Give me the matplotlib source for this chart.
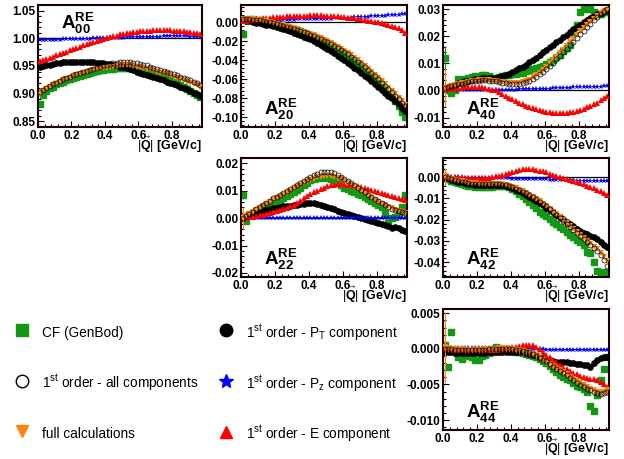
import numpy as np
import matplotlib
matplotlib.use('Agg')
import matplotlib.pyplot as plt
from matplotlib.lines import Line2D
from matplotlib.ticker import MultipleLocator, FuncFormatter

plt.rcParams['font.family'] = ['Liberation Sans', 'DejaVu Sans']
plt.rcParams['mathtext.fontset'] = 'custom'
plt.rcParams['mathtext.rm'] = 'Liberation Sans'
plt.rcParams['mathtext.it'] = 'Liberation Sans:italic'
plt.rcParams['mathtext.bf'] = 'Liberation Sans:bold'
plt.rcParams['axes.unicode_minus'] = False

# bin centres of |Q| in GeV/c (bins 0.02 wide, 0 - 0.98)
q = np.arange(0.01, 0.98, 0.02)

# ---------------- A00 ----------------
a00_cf = [0.881, 0.898, 0.905, 0.910, 0.913, 0.917, 0.919, 0.922, 0.924, 0.926,
          0.929, 0.930, 0.932, 0.934, 0.936, 0.937, 0.939, 0.941, 0.942, 0.943,
          0.944, 0.945, 0.945, 0.946, 0.947, 0.947, 0.947, 0.946, 0.946, 0.945,
          0.943, 0.942, 0.940, 0.938, 0.936, 0.934, 0.932, 0.930, 0.928, 0.925,
          0.922, 0.919, 0.916, 0.912, 0.909, 0.905, 0.901, 0.897, 0.894]
a00_all = [0.903, 0.907, 0.911, 0.914, 0.917, 0.920, 0.923, 0.926, 0.928, 0.931,
           0.933, 0.935, 0.937, 0.939, 0.941, 0.943, 0.945, 0.947, 0.949, 0.951,
           0.952, 0.954, 0.955, 0.956, 0.957, 0.957, 0.957, 0.957, 0.956, 0.955,
           0.954, 0.952, 0.951, 0.949, 0.947, 0.945, 0.943, 0.941, 0.939, 0.937,
           0.935, 0.933, 0.931, 0.929, 0.926, 0.924, 0.921, 0.919, 0.916]
a00_full = [0.900, 0.905, 0.909, 0.912, 0.915, 0.918, 0.921, 0.924, 0.926, 0.929,
            0.931, 0.933, 0.935, 0.937, 0.939, 0.941, 0.942, 0.944, 0.945, 0.946,
            0.947, 0.948, 0.949, 0.950, 0.951, 0.951, 0.951, 0.951, 0.950, 0.949,
            0.948, 0.947, 0.945, 0.944, 0.942, 0.940, 0.938, 0.937, 0.935, 0.933,
            0.931, 0.929, 0.927, 0.925, 0.922, 0.920, 0.917, 0.915, 0.912]
a00_pt = [0.948, 0.950, 0.951, 0.952, 0.954, 0.955, 0.956, 0.957, 0.957, 0.958,
          0.958, 0.958, 0.958, 0.958, 0.958, 0.957, 0.957, 0.956, 0.956, 0.955,
          0.954, 0.953, 0.952, 0.951, 0.949, 0.948, 0.946, 0.944, 0.942, 0.940,
          0.938, 0.936, 0.934, 0.932, 0.930, 0.928, 0.926, 0.924, 0.922, 0.920,
          0.918, 0.916, 0.913, 0.911, 0.908, 0.905, 0.902, 0.899, 0.896]
a00_pz = [0.996, 0.996, 0.996, 0.997, 0.997, 0.997, 0.997, 0.998, 0.998, 0.998,
          0.998, 0.998, 0.999, 0.999, 0.999, 0.999, 1.000, 1.000, 1.000, 1.000,
          1.000, 1.001, 1.001, 1.001, 1.001, 1.001, 1.002, 1.002, 1.002, 1.002,
          1.002, 1.003, 1.003, 1.003, 1.003, 1.003, 1.003, 1.004, 1.004, 1.004,
          1.004, 1.004, 1.004, 1.004, 1.004, 1.003, 1.003, 1.003, 1.003]
a00_e = [0.959, 0.961, 0.963, 0.965, 0.967, 0.970, 0.972, 0.974, 0.976, 0.979,
         0.981, 0.983, 0.985, 0.987, 0.989, 0.991, 0.993, 0.995, 0.997, 0.999,
         1.001, 1.002, 1.004, 1.005, 1.007, 1.008, 1.009, 1.010, 1.011, 1.012,
         1.013, 1.013, 1.014, 1.014, 1.015, 1.015, 1.015, 1.015, 1.015, 1.015,
         1.014, 1.014, 1.013, 1.013, 1.012, 1.011, 1.010, 1.009, 1.007]

# ---------------- A20 ----------------
a20_cf = [-0.0120, 0.0020, 0.0030, 0.0028, 0.0026, 0.0022, 0.0015, 0.0007, -0.0002, -0.0010,
          -0.0019, -0.0029, -0.0039, -0.0050, -0.0061, -0.0072, -0.0085, -0.0098, -0.0111, -0.0124,
          -0.0138, -0.0154, -0.0170, -0.0187, -0.0204, -0.0222, -0.0243, -0.0264, -0.0286, -0.0310,
          -0.0334, -0.0360, -0.0386, -0.0413, -0.0441, -0.0470, -0.0502, -0.0535, -0.0568, -0.0602,
          -0.0640, -0.0676, -0.0712, -0.0750, -0.0790, -0.0830, -0.0880, -0.0940, -0.1000]
a20_all = [0.0030, 0.0030, 0.0029, 0.0027, 0.0024, 0.0020, 0.0013, 0.0005, -0.0003, -0.0011,
           -0.0020, -0.0030, -0.0040, -0.0050, -0.0060, -0.0070, -0.0082, -0.0094, -0.0106, -0.0118,
           -0.0130, -0.0146, -0.0162, -0.0178, -0.0194, -0.0210, -0.0230, -0.0250, -0.0270, -0.0290,
           -0.0310, -0.0336, -0.0362, -0.0388, -0.0414, -0.0440, -0.0472, -0.0504, -0.0536, -0.0568,
           -0.0600, -0.0634, -0.0668, -0.0702, -0.0736, -0.0770, -0.0807, -0.0844, -0.0880]
a20_full = [0.0035, 0.0033, 0.0031, 0.0029, 0.0026, 0.0022, 0.0016, 0.0009, 0.0001, -0.0007,
            -0.0016, -0.0025, -0.0035, -0.0045, -0.0055, -0.0065, -0.0076, -0.0088, -0.0100, -0.0112,
            -0.0124, -0.0139, -0.0154, -0.0170, -0.0186, -0.0202, -0.0221, -0.0240, -0.0259, -0.0279,
            -0.0299, -0.0324, -0.0349, -0.0375, -0.0401, -0.0427, -0.0458, -0.0490, -0.0522, -0.0554,
            -0.0586, -0.0620, -0.0654, -0.0688, -0.0722, -0.0757, -0.0794, -0.0832, -0.0870]
a20_pt = [0.0020, 0.0014, 0.0008, 0.0002, -0.0004, -0.0010, -0.0018, -0.0026, -0.0034, -0.0042,
          -0.0050, -0.0062, -0.0074, -0.0086, -0.0098, -0.0110, -0.0124, -0.0138, -0.0152, -0.0166,
          -0.0180, -0.0200, -0.0220, -0.0240, -0.0260, -0.0280, -0.0304, -0.0328, -0.0352, -0.0376,
          -0.0400, -0.0426, -0.0452, -0.0478, -0.0504, -0.0530, -0.0560, -0.0590, -0.0620, -0.0650,
          -0.0680, -0.0710, -0.0740, -0.0770, -0.0800, -0.0830, -0.0863, -0.0896, -0.0930]
a20_pz = [0.0015, 0.0016, 0.0017, 0.0018, 0.0019, 0.0020, 0.0021, 0.0022, 0.0023, 0.0024,
          0.0025, 0.0025, 0.0026, 0.0026, 0.0027, 0.0027, 0.0028, 0.0028, 0.0029, 0.0030,
          0.0031, 0.0032, 0.0033, 0.0034, 0.0035, 0.0036, 0.0037, 0.0039, 0.0040, 0.0042,
          0.0044, 0.0046, 0.0048, 0.0050, 0.0052, 0.0054, 0.0056, 0.0058, 0.0060, 0.0062,
          0.0064, 0.0066, 0.0068, 0.0071, 0.0074, 0.0077, 0.0080, 0.0083, 0.0086]
a20_e = [0.0010, 0.0015, 0.0020, 0.0025, 0.0030, 0.0035, 0.0040, 0.0043, 0.0046, 0.0049,
         0.0052, 0.0055, 0.0058, 0.0060, 0.0062, 0.0064, 0.0066, 0.0067, 0.0068, 0.0069,
         0.0070, 0.0070, 0.0070, 0.0070, 0.0069, 0.0068, 0.0066, 0.0063, 0.0060, 0.0056,
         0.0052, 0.0048, 0.0044, 0.0039, 0.0034, 0.0029, 0.0023, 0.0017, 0.0011, 0.0005,
         -0.0002, -0.0010, -0.0019, -0.0029, -0.0040, -0.0052, -0.0066, -0.0084, -0.0110]

# ---------------- A40 ----------------
a40_cf = [0.0120, 0.0002, -0.0010, 0.0000, 0.0042, 0.0040, 0.0042, 0.0045, 0.0048, 0.0052,
          0.0050, 0.0055, 0.0058, 0.0052, 0.0046, 0.0046, 0.0050, 0.0053, 0.0056, 0.0058,
          0.0060, 0.0062, 0.0064, 0.0066, 0.0070, 0.0074, 0.0078, 0.0082, 0.0086, 0.0090,
          0.0096, 0.0104, 0.0112, 0.0122, 0.0132, 0.0144, 0.0156, 0.0168, 0.0210, 0.0240,
          0.0290, 0.0300, 0.0310, 0.0300, 0.0290, 0.0280, 0.0280, 0.0290, 0.0290]
a40_all = [0.0010, 0.0013, 0.0016, 0.0019, 0.0022, 0.0025, 0.0028, 0.0031, 0.0033, 0.0035,
           0.0036, 0.0037, 0.0037, 0.0036, 0.0035, 0.0033, 0.0031, 0.0029, 0.0027, 0.0025,
           0.0024, 0.0024, 0.0025, 0.0027, 0.0031, 0.0036, 0.0043, 0.0051, 0.0059, 0.0068,
           0.0079, 0.0090, 0.0102, 0.0114, 0.0127, 0.0140, 0.0153, 0.0166, 0.0180, 0.0193,
           0.0207, 0.0220, 0.0233, 0.0246, 0.0258, 0.0270, 0.0281, 0.0291, 0.0300]
a40_full = [0.0010, 0.0013, 0.0016, 0.0019, 0.0023, 0.0026, 0.0029, 0.0032, 0.0034, 0.0036,
            0.0037, 0.0038, 0.0038, 0.0037, 0.0036, 0.0034, 0.0032, 0.0030, 0.0028, 0.0027,
            0.0026, 0.0026, 0.0028, 0.0030, 0.0034, 0.0040, 0.0048, 0.0057, 0.0066, 0.0077,
            0.0088, 0.0100, 0.0112, 0.0124, 0.0137, 0.0150, 0.0164, 0.0177, 0.0191, 0.0204,
            0.0218, 0.0230, 0.0242, 0.0253, 0.0264, 0.0275, 0.0284, 0.0290, 0.0295]
a40_pt = [0.0006, 0.0011, 0.0016, 0.0021, 0.0026, 0.0030, 0.0033, 0.0036, 0.0039, 0.0041,
          0.0043, 0.0044, 0.0044, 0.0045, 0.0045, 0.0045, 0.0048, 0.0052, 0.0056, 0.0061,
          0.0067, 0.0074, 0.0081, 0.0088, 0.0095, 0.0103, 0.0112, 0.0121, 0.0130, 0.0140,
          0.0149, 0.0159, 0.0168, 0.0178, 0.0187, 0.0197, 0.0206, 0.0215, 0.0225, 0.0234,
          0.0243, 0.0251, 0.0258, 0.0266, 0.0273, 0.0280, 0.0286, 0.0292, 0.0298]
a40_pz = [0.0000, 0.0000, 0.0000, 0.0000, 0.0000, 0.0001, 0.0001, 0.0001, 0.0001, 0.0001,
          0.0001, 0.0001, 0.0002, 0.0002, 0.0002, 0.0002, 0.0002, 0.0003, 0.0003, 0.0003,
          0.0003, 0.0003, 0.0004, 0.0004, 0.0004, 0.0005, 0.0005, 0.0005, 0.0006, 0.0006,
          0.0007, 0.0007, 0.0008, 0.0008, 0.0009, 0.0009, 0.0010, 0.0010, 0.0011, 0.0011,
          0.0012, 0.0012, 0.0013, 0.0013, 0.0014, 0.0014, 0.0014, 0.0015, 0.0015]
a40_e = [0.0005, 0.0006, 0.0007, 0.0008, 0.0009, 0.0010, 0.0011, 0.0012, 0.0012, 0.0012,
         0.0012, 0.0011, 0.0009, 0.0006, 0.0003, 0.0000, -0.0006, -0.0013, -0.0020, -0.0027,
         -0.0033, -0.0039, -0.0045, -0.0051, -0.0057, -0.0062, -0.0066, -0.0070, -0.0074, -0.0077,
         -0.0080, -0.0081, -0.0082, -0.0083, -0.0083, -0.0083, -0.0082, -0.0080, -0.0078, -0.0075,
         -0.0072, -0.0068, -0.0063, -0.0057, -0.0051, -0.0045, -0.0037, -0.0029, -0.0022]

# ---------------- A22 ----------------
a22_cf = [0.0085, -0.0010, 0.0015, 0.0020, 0.0025, 0.0032, 0.0040, 0.0046, 0.0050, 0.0054,
          0.0056, 0.0064, 0.0072, 0.0080, 0.0088, 0.0096, 0.0104, 0.0112, 0.0120, 0.0130,
          0.0138, 0.0142, 0.0146, 0.0148, 0.0150, 0.0148, 0.0144, 0.0138, 0.0130, 0.0120,
          0.0110, 0.0106, 0.0100, 0.0094, 0.0090, 0.0085, 0.0078, 0.0070, 0.0062, 0.0055,
          0.0048, 0.0040, 0.0018, -0.0018, 0.0000, 0.0006, 0.0020, 0.0040, 0.0085]
a22_all = [0.0000, 0.0008, 0.0016, 0.0024, 0.0032, 0.0040, 0.0048, 0.0056, 0.0064, 0.0072,
           0.0079, 0.0086, 0.0093, 0.0101, 0.0108, 0.0115, 0.0122, 0.0130, 0.0137, 0.0145,
           0.0152, 0.0158, 0.0163, 0.0167, 0.0170, 0.0170, 0.0168, 0.0164, 0.0158, 0.0152,
           0.0145, 0.0137, 0.0129, 0.0120, 0.0112, 0.0103, 0.0094, 0.0086, 0.0077, 0.0069,
           0.0061, 0.0054, 0.0047, 0.0041, 0.0035, 0.0030, 0.0026, 0.0022, 0.0018]
a22_full = [0.0002, 0.0009, 0.0016, 0.0023, 0.0030, 0.0037, 0.0044, 0.0051, 0.0058, 0.0065,
            0.0072, 0.0079, 0.0086, 0.0093, 0.0100, 0.0107, 0.0114, 0.0121, 0.0128, 0.0134,
            0.0140, 0.0145, 0.0149, 0.0152, 0.0154, 0.0155, 0.0154, 0.0152, 0.0148, 0.0143,
            0.0137, 0.0130, 0.0123, 0.0115, 0.0107, 0.0099, 0.0091, 0.0083, 0.0075, 0.0067,
            0.0060, 0.0053, 0.0047, 0.0041, 0.0036, 0.0031, 0.0027, 0.0023, 0.0020]
a22_pt = [0.0000, 0.0005, 0.0009, 0.0013, 0.0018, 0.0022, 0.0026, 0.0029, 0.0032, 0.0036,
          0.0039, 0.0041, 0.0043, 0.0045, 0.0046, 0.0048, 0.0050, 0.0052, 0.0053, 0.0054,
          0.0055, 0.0055, 0.0053, 0.0050, 0.0046, 0.0042, 0.0037, 0.0032, 0.0027, 0.0023,
          0.0018, 0.0015, 0.0011, 0.0008, 0.0004, 0.0000, -0.0004, -0.0007, -0.0011, -0.0014,
          -0.0018, -0.0022, -0.0025, -0.0030, -0.0036, -0.0034, -0.0036, -0.0042, -0.0046]
a22_pz = [0.0000, 0.0000, 0.0001, 0.0001, 0.0001, 0.0001, 0.0001, 0.0001, 0.0001, 0.0001,
          0.0001, 0.0001, 0.0001, 0.0001, 0.0001, 0.0001, 0.0001, 0.0001, 0.0001, 0.0001,
          0.0001, 0.0001, 0.0001, 0.0001, 0.0002, 0.0002, 0.0002, 0.0002, 0.0002, 0.0002,
          0.0002, 0.0002, 0.0002, 0.0002, 0.0002, 0.0002, 0.0002, 0.0002, 0.0002, 0.0002,
          0.0002, 0.0002, 0.0002, 0.0002, 0.0002, 0.0002, 0.0002, 0.0002, 0.0002]
a22_e = [0.0000, 0.0002, 0.0004, 0.0006, 0.0008, 0.0010, 0.0013, 0.0016, 0.0019, 0.0022,
         0.0025, 0.0029, 0.0034, 0.0039, 0.0044, 0.0050, 0.0057, 0.0064, 0.0072, 0.0080,
         0.0087, 0.0094, 0.0100, 0.0106, 0.0112, 0.0117, 0.0120, 0.0122, 0.0124, 0.0125,
         0.0124, 0.0123, 0.0121, 0.0119, 0.0117, 0.0114, 0.0111, 0.0107, 0.0103, 0.0100,
         0.0096, 0.0092, 0.0089, 0.0085, 0.0082, 0.0078, 0.0075, 0.0071, 0.0067]

# ---------------- A42 ----------------
a42_cf = [0.0000, -0.0010, -0.0018, -0.0024, -0.0028, -0.0032, -0.0036, -0.0040, -0.0043, -0.0046,
          -0.0048, -0.0048, -0.0047, -0.0046, -0.0045, -0.0044, -0.0042, -0.0041, -0.0042, -0.0048,
          -0.0056, -0.0066, -0.0078, -0.0090, -0.0104, -0.0118, -0.0132, -0.0146, -0.0162, -0.0175,
          -0.0185, -0.0198, -0.0210, -0.0222, -0.0234, -0.0246, -0.0258, -0.0270, -0.0282, -0.0294,
          -0.0306, -0.0320, -0.0350, -0.0355, -0.0400, -0.0440, -0.0455, -0.0445, -0.0460]
a42_all = [0.0000, -0.0005, -0.0010, -0.0014, -0.0018, -0.0022, -0.0025, -0.0028, -0.0030, -0.0031,
           -0.0032, -0.0032, -0.0033, -0.0033, -0.0033, -0.0033, -0.0034, -0.0036, -0.0039, -0.0043,
           -0.0048, -0.0054, -0.0061, -0.0068, -0.0076, -0.0085, -0.0095, -0.0105, -0.0116, -0.0127,
           -0.0138, -0.0151, -0.0165, -0.0178, -0.0192, -0.0206, -0.0220, -0.0234, -0.0248, -0.0262,
           -0.0276, -0.0290, -0.0304, -0.0318, -0.0332, -0.0346, -0.0365, -0.0390, -0.0420]
a42_full = [0.0005, -0.0002, -0.0008, -0.0012, -0.0016, -0.0020, -0.0023, -0.0026, -0.0028, -0.0029,
            -0.0030, -0.0030, -0.0031, -0.0031, -0.0031, -0.0031, -0.0032, -0.0034, -0.0037, -0.0041,
            -0.0046, -0.0052, -0.0059, -0.0066, -0.0074, -0.0083, -0.0093, -0.0103, -0.0114, -0.0125,
            -0.0136, -0.0149, -0.0162, -0.0175, -0.0189, -0.0203, -0.0217, -0.0231, -0.0245, -0.0259,
            -0.0273, -0.0287, -0.0300, -0.0313, -0.0327, -0.0340, -0.0355, -0.0375, -0.0395]
a42_pt = [0.0000, -0.0006, -0.0012, -0.0017, -0.0021, -0.0025, -0.0028, -0.0031, -0.0033, -0.0035,
          -0.0036, -0.0036, -0.0036, -0.0036, -0.0036, -0.0036, -0.0037, -0.0039, -0.0042, -0.0047,
          -0.0052, -0.0059, -0.0066, -0.0074, -0.0083, -0.0092, -0.0102, -0.0112, -0.0123, -0.0133,
          -0.0144, -0.0155, -0.0166, -0.0177, -0.0187, -0.0198, -0.0209, -0.0220, -0.0231, -0.0242,
          -0.0253, -0.0261, -0.0269, -0.0276, -0.0284, -0.0292, -0.0306, -0.0318, -0.0330]
a42_pz = [0.0000, 0.0000, -0.0001, -0.0001, -0.0001, -0.0002, -0.0002, -0.0002, -0.0003, -0.0003,
          -0.0003, -0.0004, -0.0004, -0.0004, -0.0005, -0.0005, -0.0005, -0.0006, -0.0006, -0.0006,
          -0.0007, -0.0007, -0.0008, -0.0008, -0.0008, -0.0009, -0.0009, -0.0010, -0.0010, -0.0011,
          -0.0011, -0.0012, -0.0012, -0.0013, -0.0013, -0.0014, -0.0014, -0.0015, -0.0015, -0.0016,
          -0.0016, -0.0017, -0.0017, -0.0018, -0.0018, -0.0019, -0.0019, -0.0020, -0.0020]
a42_e = [0.0000, 0.0000, 0.0000, 0.0000, -0.0001, -0.0001, -0.0002, -0.0003, -0.0004, -0.0005,
         -0.0005, -0.0005, -0.0004, -0.0003, -0.0001, 0.0003, 0.0007, 0.0011, 0.0016, 0.0021,
         0.0026, 0.0030, 0.0034, 0.0037, 0.0039, 0.0039, 0.0038, 0.0035, 0.0031, 0.0027,
         0.0023, 0.0017, 0.0011, 0.0005, 0.0000, -0.0005, -0.0009, -0.0014, -0.0019, -0.0023,
         -0.0028, -0.0034, -0.0040, -0.0046, -0.0052, -0.0059, -0.0066, -0.0074, -0.0082]

# ---------------- A44 ----------------
a44_cf = [0.0005, -0.0025, 0.0023, -0.0002, -0.0012, -0.0014, -0.0010, -0.0008, -0.0012, -0.0016,
          -0.0015, -0.0010, -0.0009, -0.0006, -0.0004, 0.0002, 0.0001, 0.0000, -0.0001, -0.0002,
          -0.0003, -0.0004, -0.0005, -0.0006, -0.0007, -0.0008, -0.0010, -0.0012, -0.0014, -0.0017,
          -0.0020, -0.0024, -0.0028, -0.0033, -0.0037, -0.0040, -0.0042, -0.0044, -0.0048, -0.0052,
          -0.0053, -0.0057, -0.0060, -0.0080, -0.0088, -0.0065, -0.0044, -0.0028, -0.0012]
a44_all = [0.0000, 0.0000, 0.0000, -0.0001, -0.0001, -0.0001, -0.0001, -0.0001, -0.0001, -0.0001,
           -0.0001, -0.0001, -0.0001, 0.0000, 0.0000, 0.0000, 0.0000, 0.0000, 0.0000, 0.0000,
           0.0000, -0.0001, -0.0002, -0.0003, -0.0004, -0.0005, -0.0007, -0.0010, -0.0013, -0.0016,
           -0.0017, -0.0021, -0.0025, -0.0028, -0.0031, -0.0034, -0.0037, -0.0041, -0.0044, -0.0048,
           -0.0051, -0.0054, -0.0056, -0.0058, -0.0060, -0.0062, -0.0063, -0.0062, -0.0060]
a44_full = [0.0002, 0.0001, 0.0000, 0.0000, -0.0001, 0.0000, -0.0001, -0.0001, -0.0001, 0.0000,
            -0.0001, -0.0001, 0.0000, 0.0000, 0.0000, 0.0000, 0.0001, 0.0001, 0.0001, 0.0000,
            0.0000, -0.0001, -0.0002, -0.0003, -0.0004, -0.0005, -0.0007, -0.0009, -0.0012, -0.0015,
            -0.0018, -0.0021, -0.0024, -0.0027, -0.0030, -0.0033, -0.0036, -0.0039, -0.0042, -0.0045,
            -0.0048, -0.0051, -0.0054, -0.0056, -0.0058, -0.0060, -0.0061, -0.0060, -0.0058]
a44_pt = [-0.0005, -0.0005, -0.0005, -0.0006, -0.0006, -0.0006, -0.0006, -0.0006, -0.0006, -0.0006,
          -0.0006, -0.0006, -0.0006, -0.0005, -0.0005, -0.0005, -0.0004, -0.0004, -0.0004, -0.0004,
          -0.0004, -0.0004, -0.0005, -0.0005, -0.0006, -0.0007, -0.0008, -0.0009, -0.0011, -0.0013,
          -0.0015, -0.0016, -0.0017, -0.0018, -0.0018, -0.0019, -0.0019, -0.0020, -0.0020, -0.0021,
          -0.0021, -0.0022, -0.0023, -0.0026, -0.0020, -0.0016, -0.0013, -0.0012, -0.0011]
a44_pz = [0.0001, 0.0001, 0.0001, 0.0001, 0.0001, 0.0001, 0.0001, 0.0001, 0.0001, 0.0001,
          0.0001, 0.0001, 0.0001, 0.0001, 0.0001, 0.0001, 0.0001, 0.0001, 0.0001, 0.0001,
          0.0001, 0.0001, 0.0001, 0.0001, 0.0000, 0.0000, 0.0000, 0.0000, 0.0000, 0.0000,
          -0.0001, -0.0001, -0.0001, -0.0001, -0.0001, -0.0001, -0.0001, -0.0001, -0.0001, -0.0001,
          -0.0002, -0.0002, -0.0002, -0.0002, -0.0002, -0.0002, -0.0002, -0.0002, -0.0002]
a44_e = [0.0000, 0.0000, 0.0000, -0.0001, -0.0001, -0.0001, -0.0002, -0.0002, -0.0002, -0.0002,
         -0.0002, -0.0002, -0.0002, -0.0002, -0.0001, -0.0001, 0.0000, 0.0000, 0.0001, 0.0001,
         0.0002, 0.0003, 0.0004, 0.0005, 0.0006, 0.0006, 0.0005, 0.0003, 0.0000, -0.0004,
         -0.0008, -0.0012, -0.0016, -0.0019, -0.0022, -0.0025, -0.0028, -0.0031, -0.0034, -0.0036,
         -0.0038, -0.0040, -0.0041, -0.0042, -0.0043, -0.0044, -0.0046, -0.0049, -0.0053]

# errors: [first bin, typical]
a00_cf_err, a00_full_err = [0.004, 0.0015], [0.003, 0.0008]
a20_cf_err, a20_full_err = [0.004, 0.0012], [0.003, 0.0006]
a40_cf_err, a40_full_err = [0.0045, 0.0004], [0.007, 0.0003]
a22_cf_err, a22_full_err = [0.0015, 0.0004], [0.004, 0.0003]
a42_cf_err, a42_full_err = [0.004, 0.0006], [0.004, 0.0004]
a44_cf_err, a44_full_err = [0.002, 0.0004], [0.005, 0.0005]

panels = [
    # name, row, col, data, errors, ylim, tick step, fmt, reference, label pos
    ('00', 0, 0, (a00_cf, a00_all, a00_full, a00_pt, a00_pz, a00_e), (a00_cf_err, a00_full_err),
     (0.84, 1.06), 0.05, '%.2f', 1.0, 'top'),
    ('20', 0, 1, (a20_cf, a20_all, a20_full, a20_pt, a20_pz, a20_e), (a20_cf_err, a20_full_err),
     (-0.11, 0.018), 0.02, '%.2f', 0.0, 'bottom'),
    ('40', 0, 2, (a40_cf, a40_all, a40_full, a40_pt, a40_pz, a40_e), (a40_cf_err, a40_full_err),
     (-0.0135, 0.0315), 0.01, '%.2f', 0.0, 'bottom'),
    ('22', 1, 1, (a22_cf, a22_all, a22_full, a22_pt, a22_pz, a22_e), (a22_cf_err, a22_full_err),
     (-0.0215, 0.022), 0.01, '%.2f', 0.0, 'bottom'),
    ('42', 1, 2, (a42_cf, a42_all, a42_full, a42_pt, a42_pz, a42_e), (a42_cf_err, a42_full_err),
     (-0.047, 0.009), 0.01, '%.2f', 0.0, 'bottom'),
    ('44', 2, 2, (a44_cf, a44_all, a44_full, a44_pt, a44_pz, a44_e), (a44_cf_err, a44_full_err),
     (-0.0114, 0.0056), 0.005, '%.3f', 0.0, 'bottom'),
]

GREEN = '#129812'
ORANGE = '#ff8410'

W, H = 624, 459
col_x = [(38, 202), (241, 407), (443, 609)]
row_y = [(5, 127), (158, 277), (309, 430)]


def tick_fmt(fmt):
    # avoid "-0.00" for the zero tick
    return FuncFormatter(lambda v, pos: fmt % (0.0 if abs(v) < 1e-9 else v))


fig = plt.figure(figsize=(W / 100, H / 100), dpi=100)

for name, r, c, data, errs, ylim, step, fmt, ref, lpos in panels:
    cf, allc, full, pt, pz, e = [np.array(d) for d in data]
    x0, x1 = col_x[c]
    y0, y1 = row_y[r]
    ax = fig.add_axes([x0 / W, 1 - y1 / H, (x1 - x0) / W, (y1 - y0) / H])

    cf_err = np.full(len(q), errs[0][1])
    cf_err[0] = errs[0][0]
    full_err = np.full(len(q), errs[1][1])
    full_err[0] = errs[1][0]

    ax.axhline(ref, color='black', lw=0.9, zorder=1)
    ax.errorbar(q, cf, yerr=cf_err, fmt='s', color=GREEN, ms=3.8, elinewidth=0.8,
                capsize=0, zorder=2)
    ax.plot(q, pt, 'o', color='black', ms=3.8, zorder=3)
    ax.plot(q, pz, '*', color='blue', ms=4.2, mew=0, zorder=4)
    ax.plot(q, e, '^', color='red', ms=4, mew=0, zorder=5)
    ax.errorbar(q, full, yerr=full_err, fmt='v', color=ORANGE, ms=4, mew=0,
                elinewidth=0.8, capsize=0, zorder=6)
    ax.plot(q, allc, 'o', mfc='none', mec='black', ms=3.6, mew=0.5, zorder=7)

    ax.set_xlim(0, 0.98)
    ax.set_ylim(*ylim)
    ax.xaxis.set_major_locator(MultipleLocator(0.2))
    ax.xaxis.set_minor_locator(MultipleLocator(0.04))
    ax.xaxis.set_major_formatter(tick_fmt('%.1f'))
    ax.yaxis.set_major_locator(MultipleLocator(step))
    ax.yaxis.set_minor_locator(MultipleLocator(step / 5))
    ax.yaxis.set_major_formatter(tick_fmt(fmt))
    ax.tick_params(which='both', direction='in', labelsize=8.5, pad=2, width=0.8)
    ax.tick_params(which='major', length=4)
    ax.tick_params(which='minor', length=2)
    for lab in ax.get_xticklabels() + ax.get_yticklabels():
        lab.set_fontweight('bold')
    for sp in ax.spines.values():
        sp.set_linewidth(1.5)
        sp.set_color('#1a0000')

    # axis title sits right under the tick labels (ROOT style), baseline placed explicitly
    ax.annotate(r'$|\vec{\mathbf{Q}}|$ [GeV/c]', xy=(1.0, 0.0), xycoords='axes fraction',
                xytext=(0, -16.8), textcoords='offset points', ha='right', va='baseline',
                fontsize=9, fontweight='bold')
    label = r'$\mathbf{A^{RE}_{%s}}$' % name
    if lpos == 'top':
        ax.text(0.14, 0.95, label, transform=ax.transAxes, ha='left', va='top', fontsize=13.5)
    else:
        ax.text(0.14, 0.04, label, transform=ax.transAxes, ha='left', va='bottom', fontsize=13.5)

handles = [
    Line2D([], [], ls='none', marker='s', color=GREEN, ms=9),
    Line2D([], [], ls='none', marker='o', mfc='white', mec='black', ms=9, mew=1.0),
    Line2D([], [], ls='none', marker='v', color=ORANGE, ms=9),
    Line2D([], [], ls='none', marker='o', color='black', ms=9),
    Line2D([], [], ls='none', marker='*', color='blue', ms=10),
    Line2D([], [], ls='none', marker='^', color='red', ms=9),
]
labels = [
    'CF (GenBod)',
    r'1$^{\rm st}$ order - all components',
    'full calculations',
    r'1$^{\rm st}$ order - P$_{\rm T}$ component',
    r'1$^{\rm st}$ order - P$_{\rm z}$ component',
    r'1$^{\rm st}$ order - E component',
]
fig.legend(handles, labels, ncol=2, loc='upper left', bbox_to_anchor=(0.024, 0.298),
           frameon=False, fontsize=9.8, labelspacing=2.22, columnspacing=1.5,
           handlelength=1.0, handleheight=1.8, handletextpad=1.0,
           borderaxespad=0, borderpad=0)

fig.savefig('out.png', dpi=100)
